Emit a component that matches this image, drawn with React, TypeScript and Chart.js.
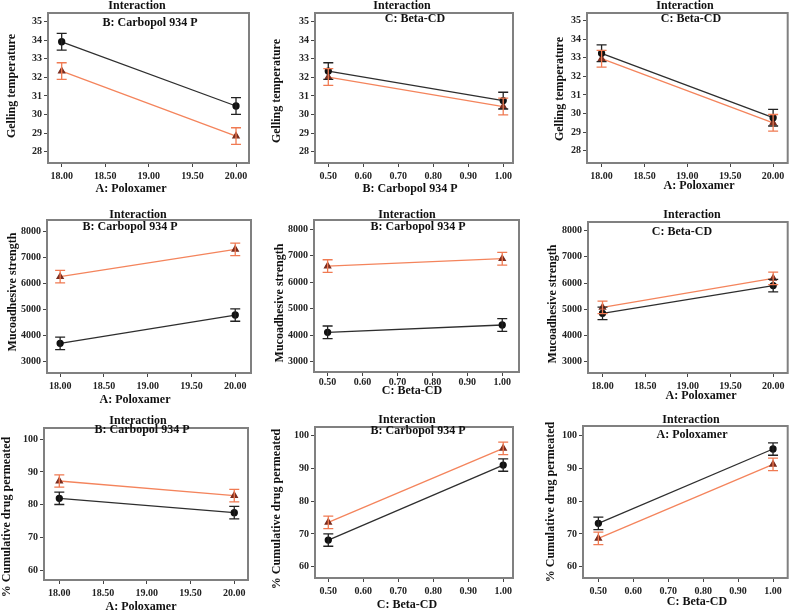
import React, { useEffect, useRef } from "react";
import { Chart, registerables } from "chart.js";
Chart.register(...registerables);

// Factor levels (x values)
const poloxamerLevels = [18, 20];
const carbopolLevels = [0.5, 1.0];
const betaCdLevels = [0.5, 1.0];

// Tick labels
const poloxamerTicks = [18, 18.5, 19, 19.5, 20];
const fractionTicks = [0.5, 0.6, 0.7, 0.8, 0.9, 1.0];
const gelTicks = [28, 29, 30, 31, 32, 33, 34, 35];
const mucoTicks = [3000, 4000, 5000, 6000, 7000, 8000];
const drugTicks = [60, 70, 80, 90, 100];

// Gelling temperature
const gelAB_low = [33.92, 30.46];
const gelAB_high = [32.34, 28.84];
const gelBC_low = [32.34, 30.75];
const gelBC_high = [32.02, 30.43];
const gelAC_low = [33.24, 29.78];
const gelAC_high = [32.95, 29.5];

// Mucoadhesive strength
const mucoAB_low = [3705, 4795];
const mucoAB_high = [6269, 7321];
const mucoCB_low = [4108, 4385];
const mucoCB_high = [6610, 6890];
const mucoAC_low = [4845, 5905];
const mucoAC_high = [5074, 6181];

// % Cumulative drug permeated
const drugAB_low = [81.94, 77.55];
const drugAB_high = [87.24, 82.76];
const drugCB_low = [68.14, 91.04];
const drugCB_high = [73.54, 96.13];
const drugCA_low = [73.23, 95.93];
const drugCA_high = [68.65, 91.25];

// Half-widths of the error bars
const gelError = 0.45;
const mucoError = 240;
const drugError = 1.9;

const yGel = "Gelling temperature";
const yMuco = "Mucoadhesive strength";
const yDrug = "% Cumulative drug permeated";
const xA = "A: Poloxamer";
const xB = "B: Carbopol 934 P";
const xC = "C: Beta-CD";

type Rect = { x: number; y: number; w: number; h: number };
type Box = { l: number; t: number; r: number; b: number };

interface PanelCfg {
  cell: Rect;
  box: Box;
  xLevels: number[];
  low: number[];
  high: number[];
  err: number;
  xRange: [number, number];
  yRange: [number, number];
  xTicks: number[];
  yTicks: number[];
  xTickPad?: number;
  factor: string;
  xTitle: string;
  yTitle: string;
  titleAt: [number, number];
  factorAt: [number, number];
  xTitleAt: [number, number];
  yTitleAt: [number, number];
}

const cols = [
  { x: 0, w: 265 },
  { x: 265, w: 265 },
  { x: 530, w: 263 },
];
const rows = [
  { y: 0, h: 200 },
  { y: 200, h: 205 },
  { y: 405, h: 209 },
];
const cell = (c: number, r: number): Rect => ({ x: cols[c].x, w: cols[c].w, y: rows[r].y, h: rows[r].h });

const panels: PanelCfg[] = [
  {
    cell: cell(0, 0), box: { l: 48, t: 13, r: 249, b: 163 },
    xLevels: poloxamerLevels, low: gelAB_low, high: gelAB_high, err: gelError,
    xRange: [17.843, 20.149], yRange: [27.39, 35.47], xTicks: poloxamerTicks, yTicks: gelTicks,
    factor: xB, xTitle: xA, yTitle: yGel,
    titleAt: [137, 6], factorAt: [150, 23], xTitleAt: [131, 189], yTitleAt: [12, 86],
  },
  {
    cell: cell(1, 0), box: { l: 315, t: 13, r: 513, b: 163 },
    xLevels: carbopolLevels, low: gelBC_low, high: gelBC_high, err: gelError,
    xRange: [0.462, 1.028], yRange: [27.39, 35.47], xTicks: fractionTicks, yTicks: gelTicks,
    factor: xC, xTitle: xB, yTitle: yGel,
    titleAt: [402, 6], factorAt: [415, 19], xTitleAt: [410, 189], yTitleAt: [277, 91],
  },
  {
    cell: cell(2, 0), box: { l: 587, t: 13, r: 791, b: 163 },
    xLevels: poloxamerLevels, low: gelAC_low, high: gelAC_high, err: gelError,
    xRange: [17.83, 20.17], yRange: [27.34, 35.41], xTicks: poloxamerTicks, yTicks: gelTicks,
    factor: xC, xTitle: xA, yTitle: yGel,
    titleAt: [685, 6], factorAt: [691, 19], xTitleAt: [699, 186], yTitleAt: [560, 89],
  },
  {
    cell: cell(0, 1), box: { l: 47, t: 220, r: 251, b: 373 },
    xLevels: poloxamerLevels, low: mucoAB_low, high: mucoAB_high, err: mucoError,
    xRange: [17.85, 20.18], yRange: [2565, 8450], xTicks: poloxamerTicks, yTicks: mucoTicks,
    factor: xB, xTitle: xA, yTitle: yMuco,
    titleAt: [138, 215], factorAt: [130, 227], xTitleAt: [135, 400], yTitleAt: [13, 292],
  },
  {
    cell: cell(1, 1), box: { l: 314, t: 220, r: 519, b: 372 },
    xLevels: betaCdLevels, low: mucoCB_low, high: mucoCB_high, err: mucoError,
    xRange: [0.461, 1.048], yRange: [2610, 8352], xTicks: fractionTicks, yTicks: mucoTicks,
    xTickPad: 0,
    factor: xB, xTitle: xC, yTitle: yMuco,
    titleAt: [407, 215], factorAt: [418, 227], xTitleAt: [412, 391], yTitleAt: [280, 303],
  },
  {
    cell: cell(2, 1), box: { l: 588, t: 222, r: 791, b: 373 },
    xLevels: poloxamerLevels, low: mucoAC_low, high: mucoAC_high, err: mucoError,
    xRange: [17.83, 20.17], yRange: [2569, 8332], xTicks: poloxamerTicks, yTicks: mucoTicks,
    factor: xC, xTitle: xA, yTitle: yMuco,
    titleAt: [692, 215], factorAt: [682, 232], xTitleAt: [701, 396], yTitleAt: [553, 304],
  },
  {
    cell: cell(0, 2), box: { l: 44, t: 428, r: 248, b: 580 },
    xLevels: poloxamerLevels, low: drugAB_low, high: drugAB_high, err: drugError,
    xRange: [17.825, 20.157], yRange: [56.94, 103.46], xTicks: poloxamerTicks, yTicks: drugTicks,
    factor: xB, xTitle: xA, yTitle: yDrug,
    titleAt: [138, 421], factorAt: [142, 430], xTitleAt: [141, 607], yTitleAt: [7, 517],
  },
  {
    cell: cell(1, 2), box: { l: 315, t: 427, r: 513, b: 578 },
    xLevels: betaCdLevels, low: drugCB_low, high: drugCB_high, err: drugError,
    xRange: [0.462, 1.028], yRange: [56.55, 102.65], xTicks: fractionTicks, yTicks: drugTicks,
    factor: xB, xTitle: xC, yTitle: yDrug,
    titleAt: [407, 420], factorAt: [418, 431], xTitleAt: [407, 605], yTitleAt: [277, 509],
  },
  {
    cell: cell(2, 2), box: { l: 583, t: 426, r: 788, b: 578 },
    xLevels: betaCdLevels, low: drugCA_low, high: drugCA_high, err: drugError,
    xRange: [0.456, 1.042], yRange: [56.55, 102.96], xTicks: fractionTicks, yTicks: drugTicks,
    factor: xA, xTitle: xC, yTitle: yDrug,
    titleAt: [691, 420], factorAt: [692, 435], xTitleAt: [697, 602], yTitleAt: [551, 502],
  },
];

const FONT = "'Liberation Serif', 'Times New Roman', serif";
const LOW_LINE = "#2e2e2e";
const HIGH_LINE = "#f4845c";

function Panel({ p }: { p: PanelCfg }) {
  const ref = useRef<HTMLCanvasElement | null>(null);
  useEffect(() => {
    if (!ref.current) return;
    const { cell: c, box } = p;
    const bl = box.l - c.x;
    const bt = box.t - c.y;
    const br = box.r - c.x;
    const bb = box.b - c.y;

    const decor = {
      id: "decor" + c.x + "_" + c.y,
      afterDatasetsDraw(chart: any) {
        const ctx = chart.ctx;
        const xs = chart.scales.x;
        const ys = chart.scales.y;
        ctx.save();
        chart.data.datasets.forEach((ds: any) => {
          ctx.strokeStyle = ds.errColor;
          ctx.lineWidth = 1.3;
          ds.data.forEach((pt: any) => {
            const px = xs.getPixelForValue(pt.x);
            const top = ys.getPixelForValue(pt.y + ds.err);
            const bot = ys.getPixelForValue(pt.y - ds.err);
            ctx.beginPath();
            ctx.moveTo(px, top);
            ctx.lineTo(px, bot);
            ctx.moveTo(px - 5, top);
            ctx.lineTo(px + 5, top);
            ctx.moveTo(px - 5, bot);
            ctx.lineTo(px + 5, bot);
            ctx.stroke();
          });
        });
        ctx.restore();
      },
      afterDraw(chart: any) {
        const ctx = chart.ctx;
        const a = chart.chartArea;
        ctx.save();
        ctx.strokeStyle = "#808080";
        ctx.lineWidth = 2;
        ctx.strokeRect(a.left, a.top, a.right - a.left, a.bottom - a.top);
        ctx.fillStyle = "#111";
        ctx.textAlign = "center";
        ctx.textBaseline = "middle";
        ctx.font = `bold 12px ${FONT}`;
        ctx.fillText("Interaction", p.titleAt[0] - c.x, p.titleAt[1] - c.y);
        ctx.fillText(p.factor, p.factorAt[0] - c.x, p.factorAt[1] - c.y);
        ctx.fillText(p.xTitle, p.xTitleAt[0] - c.x, p.xTitleAt[1] - c.y);
        ctx.translate(p.yTitleAt[0] - c.x, p.yTitleAt[1] - c.y);
        ctx.rotate(-Math.PI / 2);
        ctx.fillText(p.yTitle, 0, 0);
        ctx.restore();
      },
    };

    const tickFont = { family: FONT, size: 10, weight: "bold" as const };
    const chart = new Chart(ref.current, {
      type: "line",
      data: {
        datasets: [
          {
            data: p.xLevels.map((x, i) => ({ x, y: p.low[i] })),
            borderColor: LOW_LINE,
            borderWidth: 1.3,
            pointStyle: "circle",
            pointRadius: 3,
            pointBackgroundColor: "#111",
            pointBorderColor: "#111",
            err: p.err,
            errColor: "#222",
          } as any,
          {
            data: p.xLevels.map((x, i) => ({ x, y: p.high[i] })),
            borderColor: HIGH_LINE,
            borderWidth: 1.3,
            pointStyle: "triangle",
            pointRadius: 3.5,
            pointBackgroundColor: "#7a2c1e",
            pointBorderColor: "#7a2c1e",
            err: p.err,
            errColor: "#f07a52",
          } as any,
        ],
      },
      options: {
        responsive: false,
        animation: false,
        devicePixelRatio: 1,
        layout: { padding: { top: bt, left: 0, right: c.w - br, bottom: 0 } },
        plugins: {
          legend: { display: false },
          tooltip: { enabled: false },
          title: { display: false },
        },
        scales: {
          x: {
            type: "linear",
            min: p.xRange[0],
            max: p.xRange[1],
            afterBuildTicks: (s: any) => {
              s.ticks = p.xTicks.map((v) => ({ value: v }));
            },
            afterFit: (s: any) => {
              s.height = c.h - bb;
            },
            border: { display: false },
            grid: { drawOnChartArea: false, drawTicks: true, tickLength: 4, color: "#444" },
            ticks: {
              autoSkip: false,
              maxRotation: 0,
              minRotation: 0,
              padding: p.xTickPad ?? 3,
              font: tickFont,
              color: "#222",
              callback: (v: any) => Number(v).toFixed(2),
            },
          },
          y: {
            type: "linear",
            min: p.yRange[0],
            max: p.yRange[1],
            afterBuildTicks: (s: any) => {
              s.ticks = p.yTicks.map((v) => ({ value: v }));
            },
            afterFit: (s: any) => {
              s.width = bl;
            },
            border: { display: false },
            grid: { drawOnChartArea: false, drawTicks: true, tickLength: 4, color: "#444" },
            ticks: {
              autoSkip: false,
              padding: 2,
              font: tickFont,
              color: "#222",
              callback: (v: any) => String(Math.round(Number(v))),
            },
          },
        },
      } as any,
      plugins: [decor as any],
    });
    return () => chart.destroy();
  }, [p]);

  return (
    <canvas
      ref={ref}
      width={p.cell.w}
      height={p.cell.h}
      style={{ position: "absolute", left: p.cell.x, top: p.cell.y, width: p.cell.w, height: p.cell.h }}
    />
  );
}

export default function App() {
  return (
    <div style={{ position: "absolute", left: 0, top: 0, width: 793, height: 614, background: "#fff", overflow: "hidden" }}>
      {panels.map((p, i) => (
        <Panel key={i} p={p} />
      ))}
    </div>
  );
}
